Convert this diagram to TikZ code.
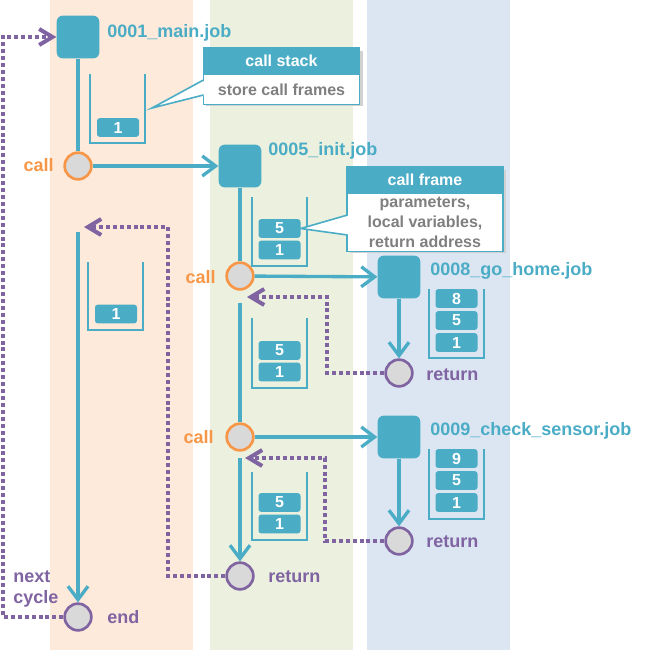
\documentclass[tikz,border=0pt]{standalone}
\usepackage{fontspec}
\setmainfont{Liberation Sans}
\usetikzlibrary{arrows.meta,positioning}

\definecolor{jobteal}{HTML}{4BACC6}
\definecolor{callorange}{HTML}{F79646}
\definecolor{retpurple}{HTML}{8064A2}
\definecolor{pointgrey}{HTML}{D9D9D9}
\definecolor{textgrey}{HTML}{7F7F7F}
\definecolor{bandorange}{HTML}{FDEADB}
\definecolor{bandgreen}{HTML}{EBF1DE}
\definecolor{bandblue}{HTML}{DCE6F2}

\tikzset{
	job/.style={rectangle, rounded corners=4.5pt, fill=jobteal, minimum size=32pt, inner sep=0pt},
	joblabel/.style={anchor=base west, inner sep=0pt, text=jobteal, font=\bfseries\fontsize{13.5}{16}\selectfont},
	calllabel/.style={anchor=base east, inner sep=0pt, text=callorange, font=\bfseries\fontsize{13.5}{16}\selectfont},
	retlabel/.style={anchor=base west, inner sep=0pt, text=retpurple, font=\bfseries\fontsize{13.5}{16}\selectfont},
	callpoint/.style={circle, draw=callorange, fill=pointgrey, line width=2pt, minimum size=20pt, inner sep=0pt},
	retpoint/.style={circle, draw=retpurple, fill=pointgrey, line width=2pt, minimum size=20pt, inner sep=0pt},
	frame/.style={rectangle, rounded corners=2pt, fill=jobteal, minimum width=31.5pt, minimum height=14pt, inner sep=0pt, text=white, font=\bfseries\fontsize{12}{14}\selectfont},
	cup/.style={draw=jobteal, line width=1.5pt},
	flow/.style={draw=jobteal, line width=2.5pt},
	flowto/.style={flow, -{Straight Barb[length=10pt, width=15pt]}},
	back/.style={draw=retpurple, line width=3pt, dash pattern=on 3pt off 2.2pt},
	backto/.style={back, -{Straight Barb[length=10pt, width=12pt]}},
	head/.style={rectangle, fill=jobteal, draw=jobteal, line width=1.2pt, minimum width=117pt, minimum height=18.75pt, inner sep=0pt, text=white, font=\bfseries\fontsize{12}{15}\selectfont},
	body/.style={rectangle, fill=white, draw=jobteal, line width=1.2pt, minimum width=117pt, inner sep=0pt, align=center, text=textgrey, font=\bfseries\fontsize{12}{15}\selectfont},
	pointer/.style={draw=jobteal, line width=1.2pt, line join=miter},
}

\begin{document}
\begin{tikzpicture}[x=0.75pt, y=-0.75pt]
	\useasboundingbox (0,0) rectangle (668,650);

	% columns
	\fill[bandorange] (50,0) rectangle (193,650);
	\fill[bandgreen] (210,0) rectangle (353,650);
	\fill[bandblue] (367,0) rectangle (510,650);

	% jobs
	\node[job] (main) at (78,37) {};
	\node[job] (init) at (240,166) {};
	\node[job] (home) at (399,277) {};
	\node[job] (sensor) at (399,437) {};
	\node[joblabel] (mainlbl) at (107,37) {0001\_main.job};
	\node[joblabel] (initlbl) at (268,155) {0005\_init.job};
	\node[joblabel] (homelbl) at (430,275) {0008\_go\_home.job};
	\node[joblabel] (sensorlbl) at (430,435) {0009\_check\_sensor.job};

	% call and return points
	\node[callpoint] (callA) at (78,166) {};
	\node[callpoint] (callB) at (240,276) {};
	\node[callpoint] (callC) at (240,437) {};
	\node[retpoint] (retHome) at (399,373) {};
	\node[retpoint] (retSensor) at (399,541) {};
	\node[retpoint] (retInit) at (240,576) {};
	\node[retpoint] (endMain) at (78,617) {};

	\node[calllabel] at (54,171) {call};
	\node[calllabel] at (216,283) {call};
	\node[calllabel] at (214,443) {call};
	\node[retlabel] at (426,380) {return};
	\node[retlabel] at (426,547) {return};
	\node[retlabel] at (268,582) {return};
	\node[retlabel] at (107,623) {end};
	\node[retlabel] (nextlbl) at (13,582) {next};
	\node[retlabel] (cyclelbl) at (13,603) {cycle};

	% stacks
	\foreach \l/\t/\b in {90/74/143, 252/197/266, 429/289/358, 252/318/388,
			429/449/519, 252/472/540, 88/262/330}
		\draw[cup] (\l,\t) |- (\l+55,\b) -- (\l+55,\t);

	\foreach \n/\x/\y/\v in {mainA/118/127.5/1,
			initA/279.5/228.5/5, initB/279.5/250/1,
			homeA/456.5/298.5/8, homeB/456.5/320.5/5, homeC/456.5/342.5/1,
			initC/279.5/350.5/5, initD/279.5/372/1,
			sensA/456.5/458.5/9, sensB/456.5/480.5/5, sensC/456.5/502.5/1,
			initE/279.5/502.5/5, initF/279.5/524/1,
			mainB/116/314/1}
		\node[frame] (\n) at (\x,\y) {\v};

	% control flow
	\coordinate (resA) at (78,232);
	\coordinate (resB) at (240,303);
	\coordinate (resC) at (240,458);
	\coordinate (backA) at (84,227);
	\coordinate (backB) at (247,297);
	\coordinate (backC) at (245,458);

	\draw[flow] (main) -- (callA);
	\draw[flowto] (callA) -- (init);
	\draw[flow] (init) -- (callB);
	\draw[flowto] (callB) -- (home);
	\draw[flowto] (home) -- (retHome);
	\draw[flow] (resB) -- (callC);
	\draw[flowto] (callC) -- (sensor);
	\draw[flowto] (sensor) -- (retSensor);
	\draw[flowto] (resC) -- (retInit);
	\draw[flowto] (resA) -- (endMain);

	\draw[backto] (retHome) -- (327,373) |- (backB);
	\draw[backto] (retSensor) -- (325,541) |- (backC);
	\draw[backto] (retInit) -- (168,576) |- (backA);
	\draw[backto] (endMain) -- (3,617) |- (main);

	% callouts
	\fill[black!18] (206,51) rectangle (363,106);
	\node[head] (stackhead) at (281.5,60.5) {call stack};
	\node[body, minimum height=22.5pt, below=0pt of stackhead] (stackbody) {store call frames};
	\coordinate (stacktip) at (152,108);
	\fill[white] (206,80) -- (stacktip) -- (206,95) -- cycle;
	\draw[pointer] (203.5,80) -- (stacktip) -- (203.5,95);

	\fill[black!18] (350,170) rectangle (506,253);
	\node[head] (framehead) at (425,179.5) {call frame};
	\node[body, minimum height=43.5pt, below=0pt of framehead] (framebody)
		{parameters,\\local variables,\\return address};
	\fill[white] (350,215) -- (initA.east) -- (350,235) -- cycle;
	\draw[pointer] (347.5,215) -- (initA.east) -- (347.5,235);
\end{tikzpicture}
\end{document}
